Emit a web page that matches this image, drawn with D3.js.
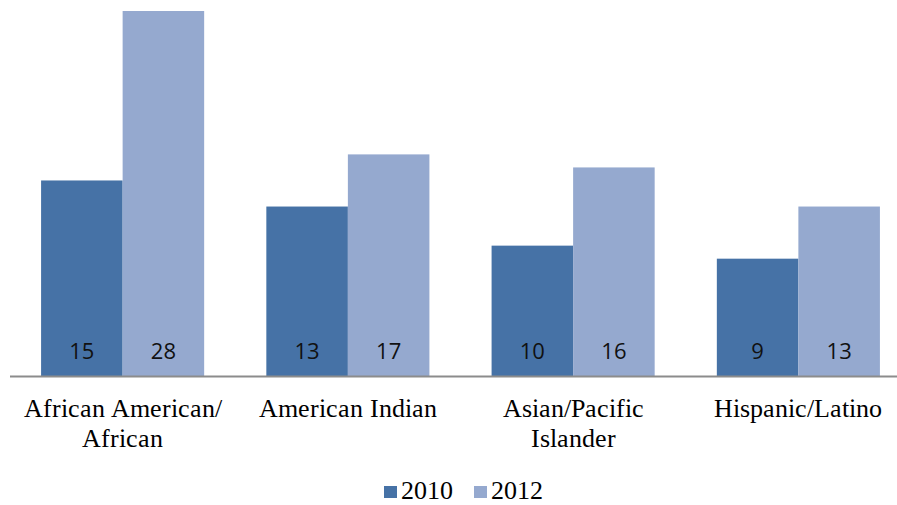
<!DOCTYPE html>
<html>
<head>
<meta charset="utf-8">
<script src="https://cdn.jsdelivr.net/npm/d3@7"></script>
<style>
  @font-face { font-family: 'LabelSerif'; src: local('Liberation Serif'), local('LiberationSerif'), local('Liberation Serif Regular'); }
  body { margin: 0; background: #fff; }
</style>
</head>
<body>
<svg width="897" height="505" id="chart"></svg>
<script>
const categories = [['African American/', 'African'], ['American Indian'], ['Asian/Pacific', 'Islander'], ['Hispanic/Latino']];
const seriesNames = ['2010', '2012'];
const values2010 = [15, 13, 10, 9];
const values2012 = [28, 17, 16, 13];

const width = 897;
const height = 505;
const colors = { '2010': '#4672A6', '2012': '#95A9CF' };
const serif = "'LabelSerif', 'Liberation Serif', serif";

const svg = d3.select('#chart');

const x = d3.scaleBand()
  .domain(d3.range(categories.length))
  .range([10, 911])
  .paddingInner(0.276)
  .paddingOuter(0.138);

const x1 = d3.scaleBand()
  .domain(seriesNames)
  .range([0, x.bandwidth()]);

const y = d3.scaleLinear()
  .domain([0, 28])
  .range([376, 11]);

const data = categories.map((c, i) => ({ i, vals: [values2010[i], values2012[i]] }));

const groups = svg.append('g').selectAll('g')
  .data(data)
  .join('g')
  .attr('transform', d => 'translate(' + x(d.i) + ',0)');

groups.selectAll('rect')
  .data(d => d.vals.map((v, k) => ({ key: seriesNames[k], v })))
  .join('rect')
  .attr('x', d => x1(d.key))
  .attr('y', d => y(d.v))
  .attr('width', x1.bandwidth())
  .attr('height', d => y(0) - y(d.v))
  .attr('fill', d => colors[d.key]);

// value labels near the bottom of each bar
groups.selectAll('text')
  .data(d => d.vals.map((v, k) => ({ key: seriesNames[k], v })))
  .join('text')
  .attr('x', d => x1(d.key) + x1.bandwidth() / 2)
  .attr('y', 359)
  .attr('text-anchor', 'middle')
  .style('font-family', "'Open Sans'")
  .attr('font-size', 22)
  .attr('fill', '#111')
  .text(d => d.v);

// baseline
svg.append('line')
  .attr('x1', 10).attr('x2', width)
  .attr('y1', y(0) + 0.5).attr('y2', y(0) + 0.5)
  .attr('stroke', '#8c8c8c')
  .attr('stroke-width', 2);

// category labels
const catLabels = svg.append('g').selectAll('text')
  .data(categories)
  .join('text')
  .attr('x', (d, i) => x(i) + x.bandwidth() / 2)
  .attr('y', 417)
  .attr('text-anchor', 'middle')
  .style('font-family', serif)
  .attr('font-size', 26)
  .attr('fill', '#000');

catLabels.selectAll('tspan')
  .data(d => d)
  .join('tspan')
  .attr('x', function() { return d3.select(this.parentNode).attr('x'); })
  .attr('dy', (d, i) => i === 0 ? 0 : 30)
  .text(d => d);

// legend
const legendX = [384, 474];
seriesNames.forEach((s, i) => {
  svg.append('rect')
    .attr('x', legendX[i])
    .attr('y', 486)
    .attr('width', 13)
    .attr('height', 12)
    .attr('fill', colors[s]);
  svg.append('text')
    .attr('x', legendX[i] + 17)
    .attr('y', 499)
    .style('font-family', serif)
    .attr('font-size', 26)
    .attr('fill', '#000')
    .text(s);
});
</script>
</body>
</html>
